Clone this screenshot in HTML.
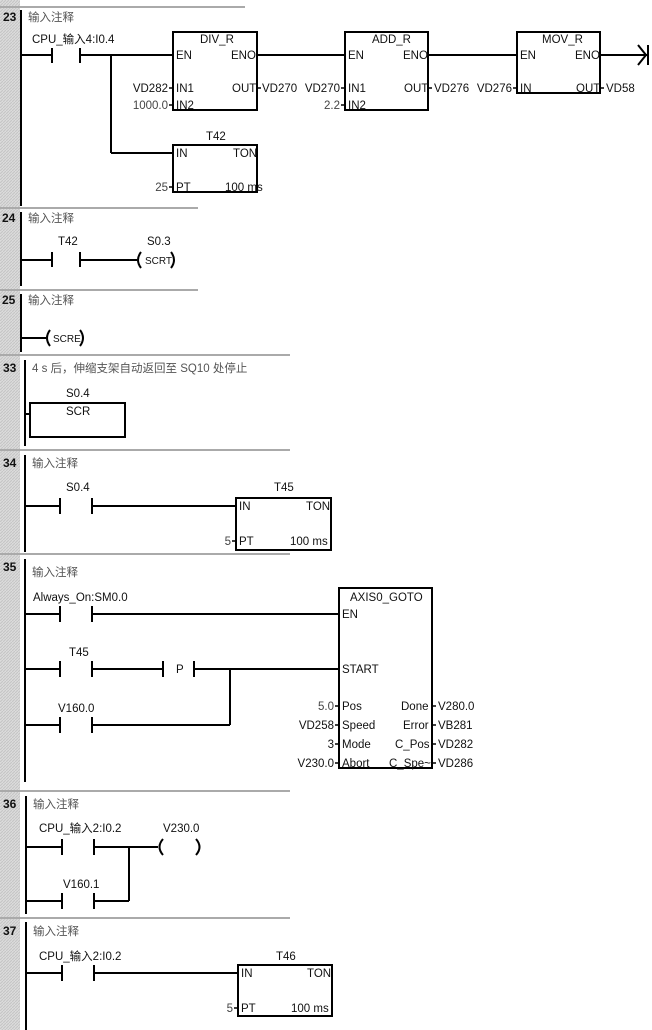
<!DOCTYPE html>
<html><head><meta charset="utf-8"><style>
html,body{margin:0;padding:0;background:#fff}
svg{display:block}
text{font-family:"Liberation Sans","Noto Sans CJK SC",sans-serif;font-size:11.5px;fill:#111}
.c{fill:#555;font-size:11.5px}
.n{font-weight:bold;font-size:12px}
.g{fill:#444}
.e{text-anchor:end}
</style></head><body>
<svg width="652" height="1030" viewBox="0 0 652 1030" xmlns="http://www.w3.org/2000/svg">
<defs><pattern id="h" width="3" height="3" patternUnits="userSpaceOnUse"><rect width="3" height="3" fill="#dcdcdc"/><path d="M0 3L3 0" stroke="#c4c4c4" stroke-width="1"/></pattern></defs>
<rect x="0" y="0" width="20" height="1030" fill="url(#h)"/>
<g stroke="#aaa" stroke-width="2" fill="none">
<line x1="0" y1="7" x2="245" y2="7"/>
<line x1="0" y1="208" x2="198" y2="208"/>
<line x1="0" y1="290" x2="198" y2="290"/>
<line x1="0" y1="355" x2="290" y2="355"/>
<line x1="0" y1="450" x2="290" y2="450"/>
<line x1="0" y1="554" x2="290" y2="554"/>
<line x1="0" y1="791" x2="290" y2="791"/>
<line x1="0" y1="918" x2="290" y2="918"/>
</g>
<g class="n"><text class="n" x="3" y="21">23</text><text class="n" x="2" y="222">24</text><text class="n" x="2" y="304">25</text><text class="n" x="3" y="372">33</text><text class="n" x="3" y="467">34</text><text class="n" x="3" y="571">35</text><text class="n" x="3" y="808">36</text><text class="n" x="3" y="935">37</text></g>
<g stroke="#000" stroke-width="2" fill="none">
<line x1="21" y1="10" x2="21" y2="206"/>
<line x1="21" y1="212" x2="21" y2="286"/>
<line x1="21" y1="294" x2="21" y2="352"/>
<line x1="25" y1="360" x2="25" y2="446"/>
<line x1="25" y1="455" x2="25" y2="552"/>
<line x1="25" y1="559" x2="25" y2="782"/>
<line x1="26" y1="796" x2="26" y2="914"/>
<line x1="26" y1="922" x2="26" y2="1030"/>
<line x1="21" y1="55" x2="52" y2="55"/><line x1="52" y1="48" x2="52" y2="63"/><line x1="80" y1="48" x2="80" y2="63"/>
<line x1="80" y1="55" x2="173" y2="55"/><line x1="111" y1="55" x2="111" y2="153"/><line x1="111" y1="153" x2="173" y2="153"/>
<rect x="173" y="32" width="84" height="78"/>
<line x1="257" y1="55" x2="345" y2="55"/>
<rect x="345" y="32" width="83" height="78"/>
<line x1="428" y1="55" x2="517" y2="55"/>
<rect x="517" y="32" width="83" height="61"/>
<line x1="600" y1="55" x2="648" y2="55"/>
<path d="M638 45L646 55L638 65"/><line x1="648" y1="45" x2="648" y2="65"/>
<rect x="173" y="145" width="84" height="47"/>
<line x1="21" y1="260" x2="52" y2="260"/><line x1="52" y1="252" x2="52" y2="267"/><line x1="80" y1="252" x2="80" y2="267"/>
<line x1="80" y1="260" x2="137" y2="260"/>
<path d="M141 252Q135 260 141 268"/><path d="M171 252Q177 260 171 268"/>
<line x1="21" y1="338" x2="46" y2="338"/>
<path d="M50 330Q44 338 50 346"/><path d="M80 330Q86 338 80 346"/>
<line x1="25" y1="414" x2="30" y2="414"/>
<rect x="30" y="403" width="95" height="34"/>
<line x1="25" y1="506" x2="60" y2="506"/><line x1="60" y1="498" x2="60" y2="514"/><line x1="92" y1="498" x2="92" y2="514"/>
<line x1="92" y1="506" x2="236" y2="506"/>
<rect x="236" y="498" width="95" height="52"/>
<line x1="25" y1="614" x2="60" y2="614"/><line x1="60" y1="606" x2="60" y2="622"/><line x1="92" y1="606" x2="92" y2="622"/>
<line x1="92" y1="614" x2="339" y2="614"/>
<line x1="25" y1="669" x2="60" y2="669"/><line x1="60" y1="661" x2="60" y2="677"/><line x1="92" y1="661" x2="92" y2="677"/>
<line x1="92" y1="669" x2="163" y2="669"/><line x1="163" y1="661" x2="163" y2="677"/><line x1="194" y1="661" x2="194" y2="677"/>
<line x1="194" y1="669" x2="339" y2="669"/>
<line x1="25" y1="725" x2="60" y2="725"/><line x1="60" y1="717" x2="60" y2="733"/><line x1="92" y1="717" x2="92" y2="733"/>
<line x1="92" y1="725" x2="230" y2="725"/><line x1="230" y1="669" x2="230" y2="725"/>
<rect x="339" y="588" width="93" height="180"/>
<line x1="26" y1="847" x2="62" y2="847"/><line x1="62" y1="839" x2="62" y2="855"/><line x1="94" y1="839" x2="94" y2="855"/>
<line x1="94" y1="847" x2="158" y2="847"/><line x1="129" y1="847" x2="129" y2="901"/>
<line x1="26" y1="901" x2="62" y2="901"/><line x1="62" y1="893" x2="62" y2="909"/><line x1="94" y1="893" x2="94" y2="909"/>
<line x1="94" y1="901" x2="129" y2="901"/>
<path d="M163 839Q156 847 163 855"/><path d="M196 839Q203 847 196 855"/>
<line x1="26" y1="973" x2="62" y2="973"/><line x1="62" y1="965" x2="62" y2="981"/><line x1="94" y1="965" x2="94" y2="981"/>
<line x1="94" y1="973" x2="238" y2="973"/>
<rect x="238" y="965" width="94" height="51"/>
</g>
<g stroke="#000" stroke-width="1.5">
<line x1="169" y1="88" x2="173" y2="88"/><line x1="169" y1="105" x2="173" y2="105"/><line x1="257" y1="88" x2="261" y2="88"/>
<line x1="341" y1="88" x2="345" y2="88"/><line x1="341" y1="105" x2="345" y2="105"/><line x1="428" y1="88" x2="432" y2="88"/>
<line x1="513" y1="88" x2="517" y2="88"/><line x1="600" y1="88" x2="604" y2="88"/>
<line x1="169" y1="187" x2="173" y2="187"/>
<line x1="232" y1="541" x2="236" y2="541"/>
<line x1="335" y1="706" x2="339" y2="706"/><line x1="335" y1="725" x2="339" y2="725"/><line x1="335" y1="744" x2="339" y2="744"/><line x1="335" y1="763" x2="339" y2="763"/>
<line x1="432" y1="706" x2="436" y2="706"/><line x1="432" y1="725" x2="436" y2="725"/><line x1="432" y1="744" x2="436" y2="744"/><line x1="432" y1="763" x2="436" y2="763"/>
<line x1="234" y1="1008" x2="238" y2="1008"/>
</g>
<text class="c" x="28" y="21">输入注释</text>
<text x="32" y="43">CPU_输入4:I0.4</text>
<text x="200" y="43">DIV_R</text><text x="176" y="59">EN</text><text x="231" y="59">ENO</text>
<text class="e" x="168" y="92">VD282</text><text x="176" y="92">IN1</text><text x="232" y="92">OUT</text><text x="262" y="92">VD270</text>
<text class="g e" x="168" y="109">1000.0</text><text x="176" y="109">IN2</text>
<text x="372" y="43">ADD_R</text><text x="348" y="59">EN</text><text x="403" y="59">ENO</text>
<text class="e" x="340" y="92">VD270</text><text x="348" y="92">IN1</text><text x="404" y="92">OUT</text><text x="434" y="92">VD276</text>
<text class="g e" x="340" y="109">2.2</text><text x="348" y="109">IN2</text>
<text x="542" y="43">MOV_R</text><text x="520" y="59">EN</text><text x="575" y="59">ENO</text>
<text class="e" x="512" y="92">VD276</text><text x="520" y="92">IN</text><text x="576" y="92">OUT</text><text x="606" y="92">VD58</text>
<text x="206" y="140">T42</text><text x="176" y="157">IN</text><text x="233" y="157">TON</text>
<text class="g e" x="168" y="191">25</text><text x="176" y="191">PT</text><text x="225" y="191">100 ms</text>
<text class="c" x="28" y="222">输入注释</text>
<text x="58" y="245">T42</text><text x="147" y="245">S0.3</text><text x="145" y="264" style="font-size:10px">SCRT</text>
<text class="c" x="28" y="304">输入注释</text>
<text x="53" y="342" style="font-size:10px">SCRE</text>
<text class="c" x="32" y="372">4 s 后，伸缩支架自动返回至 SQ10 处停止</text>
<text x="66" y="397">S0.4</text><text x="66" y="415">SCR</text>
<text class="c" x="32" y="467">输入注释</text>
<text x="66" y="491">S0.4</text>
<text x="274" y="491">T45</text><text x="239" y="510">IN</text><text x="306" y="510">TON</text>
<text class="g e" x="231" y="545">5</text><text x="239" y="545">PT</text><text x="290" y="545">100 ms</text>
<text class="c" x="32" y="576">输入注释</text>
<text x="33" y="601">Always_On:SM0.0</text>
<text x="69" y="656">T45</text><text x="176" y="673">P</text>
<text x="58" y="712">V160.0</text>
<text x="350" y="601">AXIS0_GOTO</text><text x="342" y="618">EN</text><text x="342" y="673">START</text>
<text class="g e" x="334" y="710">5.0</text><text x="342" y="710">Pos</text><text x="401" y="710">Done</text><text x="438" y="710">V280.0</text>
<text class="e" x="334" y="729">VD258</text><text x="342" y="729">Speed</text><text x="403" y="729">Error</text><text x="438" y="729">VB281</text>
<text class="e" x="334" y="748">3</text><text x="342" y="748">Mode</text><text x="395" y="748">C_Pos</text><text x="438" y="748">VD282</text>
<text class="e" x="334" y="767">V230.0</text><text x="342" y="767">Abort</text><text x="389" y="767">C_Spe~</text><text x="438" y="767">VD286</text>
<text class="c" x="33" y="808">输入注释</text>
<text x="39" y="832">CPU_输入2:I0.2</text><text x="163" y="832">V230.0</text>
<text x="63" y="888">V160.1</text>
<text class="c" x="33" y="935">输入注释</text>
<text x="39" y="960">CPU_输入2:I0.2</text>
<text x="276" y="960">T46</text><text x="241" y="977">IN</text><text x="307" y="977">TON</text>
<text class="g e" x="233" y="1012">5</text><text x="241" y="1012">PT</text><text x="291" y="1012">100 ms</text>
</svg>
</body></html>
